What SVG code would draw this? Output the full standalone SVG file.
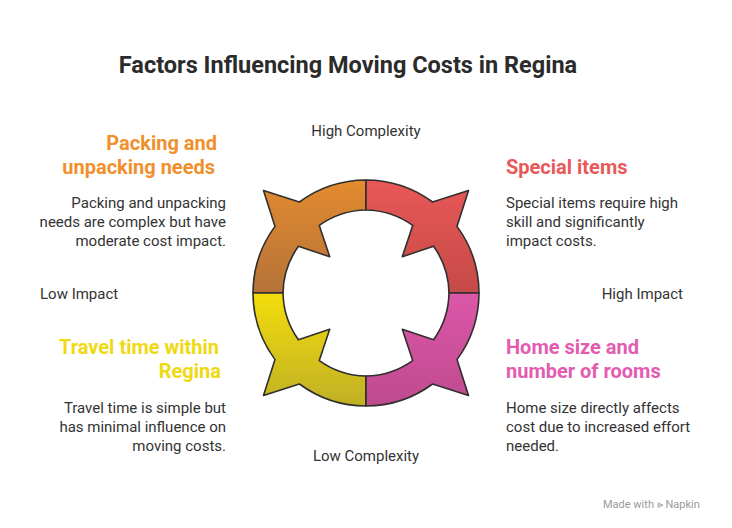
<svg xmlns="http://www.w3.org/2000/svg" width="732" height="528" viewBox="0 0 732 528">
<style>
text{font-family:Roboto,"Liberation Sans",sans-serif}
.t{font-size:23.5px;font-weight:bold;fill:#2b2b2b}
.h{font-size:20px;font-weight:bold}
.b{font-size:15px;fill:#333}
.ax{font-size:15px;fill:#333}
.seg{stroke:#2f2f2f;stroke-width:1.6;stroke-linejoin:round}
</style>
<defs>
<linearGradient id="gtl" x1="0" y1="0" x2="0" y2="1"><stop offset="0" stop-color="#E38B2E"/><stop offset="1" stop-color="#B57239"/></linearGradient>
<linearGradient id="gtr" x1="0" y1="0" x2="0" y2="1"><stop offset="0" stop-color="#E85857"/><stop offset="1" stop-color="#C54A47"/></linearGradient>
<linearGradient id="gbl" x1="0" y1="0" x2="0" y2="1"><stop offset="0" stop-color="#F4DD0C"/><stop offset="1" stop-color="#BFB025"/></linearGradient>
<linearGradient id="gbr" x1="0" y1="0" x2="0" y2="1"><stop offset="0" stop-color="#DC57A9"/><stop offset="1" stop-color="#BF4A8E"/></linearGradient>
</defs>
<text class="t" x="348" y="73" text-anchor="middle">Factors Influencing Moving Costs in Regina</text>
<g id="ring">
<path class="seg" fill="url(#gtl)" d="M253,293 A113,113 0 0 1 275,226.4 L263.5,190.5 L299.4,202 A113,113 0 0 1 366,180 L366,210 A83,83 0 0 0 319.3,225.4 L329.7,256.7 L298.4,246.3 A83,83 0 0 0 283,293 Z"/>
<path class="seg" fill="url(#gtr)" d="M479,293 A113,113 0 0 0 457,226.4 L468.5,190.5 L432.6,202 A113,113 0 0 0 366,180 L366,210 A83,83 0 0 1 412.7,225.4 L402.3,256.7 L433.6,246.3 A83,83 0 0 1 449,293 Z"/>
<path class="seg" fill="url(#gbl)" d="M253,293 A113,113 0 0 0 275,359.6 L263.5,395.5 L299.4,384 A113,113 0 0 0 366,406 L366,376 A83,83 0 0 1 319.3,360.6 L329.7,329.3 L298.4,339.7 A83,83 0 0 1 283,293 Z"/>
<path class="seg" fill="url(#gbr)" d="M479,293 A113,113 0 0 1 457,359.6 L468.5,395.5 L432.6,384 A113,113 0 0 1 366,406 L366,376 A83,83 0 0 0 412.7,360.6 L402.3,329.3 L433.6,339.7 A83,83 0 0 0 449,293 Z"/>
</g>
<g id="axes">
<text class="ax" x="366" y="136" text-anchor="middle">High Complexity</text>
<text class="ax" x="366" y="461" text-anchor="middle">Low Complexity</text>
<text class="ax" x="40" y="299">Low Impact</text>
<text class="ax" x="683" y="299" text-anchor="end">High Impact</text>
</g>
<g id="packing">
<text class="h" fill="#F0902C" text-anchor="end"><tspan x="217" y="150">Packing and</tspan><tspan x="215" y="174">unpacking needs</tspan></text>
<text class="b" text-anchor="end"><tspan x="226" y="208">Packing and unpacking</tspan><tspan x="226" y="227">needs are complex but have</tspan><tspan x="226" y="246">moderate cost impact.</tspan></text>
</g>
<g id="special">
<text class="h" fill="#E85A5A" x="506" y="174">Special items</text>
<text class="b"><tspan x="506" y="208">Special items require high</tspan><tspan x="506" y="227">skill and significantly</tspan><tspan x="506" y="246">impact costs.</tspan></text>
</g>
<g id="travel">
<text class="h" fill="#EFD910" text-anchor="end"><tspan x="219" y="354">Travel time within</tspan><tspan x="221" y="378">Regina</tspan></text>
<text class="b" text-anchor="end"><tspan x="226" y="413">Travel time is simple but</tspan><tspan x="226" y="432">has minimal influence on</tspan><tspan x="226" y="451">moving costs.</tspan></text>
</g>
<g id="home">
<text class="h" fill="#E35CB0"><tspan x="506" y="354">Home size and</tspan><tspan x="506" y="378">number of rooms</tspan></text>
<text class="b"><tspan x="506" y="413">Home size directly affects</tspan><tspan x="506" y="432">cost due to increased effort</tspan><tspan x="506" y="451">needed.</tspan></text>
</g>
<text x="603" y="508" font-size="11" fill="#999">Made with ⪢ Napkin</text>
</svg>
